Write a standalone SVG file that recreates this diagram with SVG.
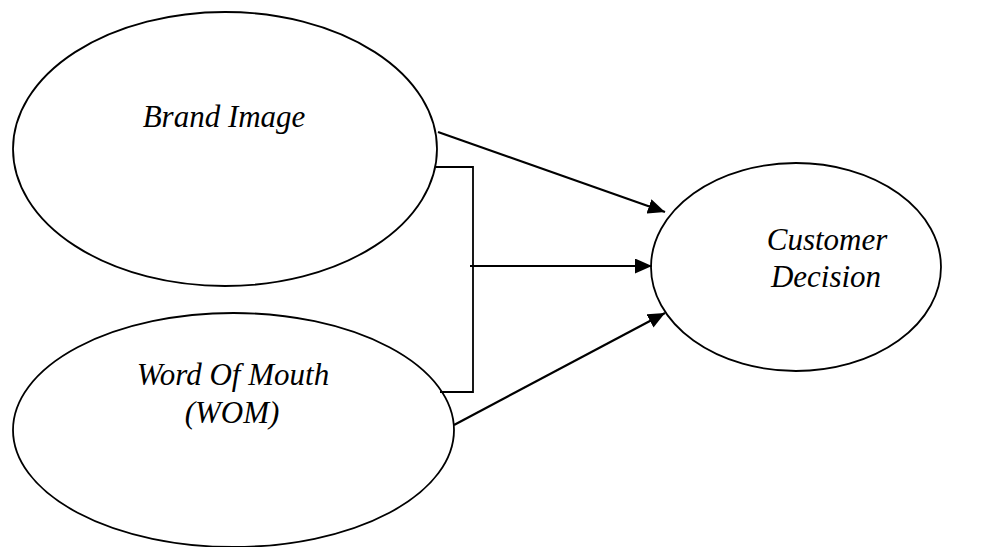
<svg xmlns="http://www.w3.org/2000/svg" width="992" height="547" viewBox="0 0 992 547">
<style>
.node ellipse{fill:#fff;stroke:#000;stroke-width:1.8}
.lbl{font-family:"Liberation Serif","Times New Roman",serif;font-style:italic;font-size:31px;fill:#000;text-anchor:middle}
.conn{stroke:#000;stroke-width:2.2;fill:none}
.brk{stroke:#000;stroke-width:1.8;fill:none}
</style>
<defs>
<marker id="ah" viewBox="0 0 17 15" refX="17" refY="7.5" markerWidth="17" markerHeight="15" markerUnits="userSpaceOnUse" orient="auto">
<path d="M0,0 L17,7.5 L0,15 Z" fill="#000"/>
</marker>
</defs>
<rect width="992" height="547" fill="#fff"/>
<g id="brand-image" class="node">
<ellipse cx="225" cy="149" rx="212" ry="137"/>
<text class="lbl" x="224" y="127">Brand Image</text>
</g>
<g id="wom" class="node">
<ellipse cx="233.5" cy="430" rx="220.5" ry="117"/>
<text class="lbl" x="233" y="385">Word Of Mouth</text>
<text class="lbl" x="232" y="423">(WOM)</text>
</g>
<g id="customer-decision" class="node">
<ellipse cx="796" cy="267" rx="145" ry="104"/>
<text class="lbl" x="827" y="250">Customer</text>
<text class="lbl" x="826" y="287">Decision</text>
</g>
<g id="connectors">
<polyline class="brk" points="436,167 473,167 473,392 440,392"/>
<line class="conn" x1="438" y1="132" x2="665" y2="212" marker-end="url(#ah)"/>
<line class="conn" x1="470" y1="266" x2="652" y2="266" marker-end="url(#ah)"/>
<line class="conn" x1="454" y1="425" x2="665" y2="313" marker-end="url(#ah)"/>
</g>
</svg>
